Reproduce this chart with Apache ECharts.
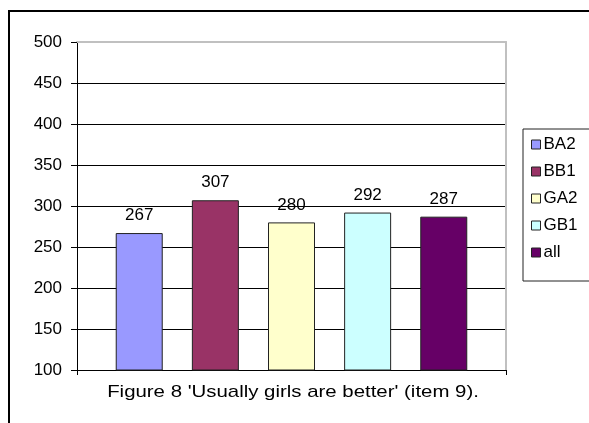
<!DOCTYPE html>
<html>
<head>
<meta charset="utf-8">
<script src="https://cdn.jsdelivr.net/npm/echarts@6/dist/echarts.min.js"></script>
<style>
  html, body { margin: 0; padding: 0; background: #fff; }
  #chart { width: 589px; height: 423px; }
</style>
</head>
<body>
<div id="chart"></div>
<script>
const categories = [''];
const seriesNames = ['BA2', 'BB1', 'GA2', 'GB1', 'all'];
const seriesValues = [267, 307, 280, 292, 287];
const seriesColors = ['#9999FF', '#993366', '#FFFFCC', '#CCFFFF', '#660066'];
const yMin = 100, yMax = 500, yInterval = 50;
const titleText = "Figure 8 'Usually girls are better' (item 9).";

const FONT = '"Liberation Sans", Arial, sans-serif';

const chart = echarts.init(document.getElementById('chart'), null, { renderer: 'canvas' });

const series = seriesNames.map((name, i) => ({
  name: name,
  type: 'bar',
  xAxisIndex: 0,
  yAxisIndex: 0,
  data: [seriesValues[i]],
  barWidth: 47,
  barGap: '62%',
  itemStyle: { color: seriesColors[i], borderColor: '#222', borderWidth: 1 },
  label: {
    show: true, position: 'top', distance: 9,
    color: '#000', fontSize: 17, fontFamily: FONT
  },
  emphasis: { disabled: true },
  animation: false
}));

chart.setOption({
  animation: false,
  backgroundColor: '#fff',
  grid: { left: 77, top: 42, width: 429, height: 328, containLabel: false, outerBoundsMode: 'none' },
  xAxis: [
    {
      type: 'category', data: categories, position: 'bottom',
      axisLine: { show: true, lineStyle: { color: '#000', width: 1 } },
      axisTick: { show: true, inside: false, length: 5, lineStyle: { color: '#000' } },
      axisLabel: { show: false },
      splitLine: { show: false }
    },
    {
      type: 'category', data: categories, position: 'top', gridIndex: 0,
      axisLine: { show: true, lineStyle: { color: '#c0c0c0', width: 2 } },
      axisTick: { show: false }, axisLabel: { show: false }, splitLine: { show: false }
    }
  ],
  yAxis: [
    {
      type: 'value', min: yMin, max: yMax, interval: yInterval, position: 'left',
      axisLine: { show: true, lineStyle: { color: '#000', width: 1 } },
      axisTick: { show: true, inside: false, length: 6, lineStyle: { color: '#000' } },
      axisLabel: { show: true, margin: 15, color: '#000', fontSize: 17, fontFamily: FONT },
      splitLine: { show: true, showMinLine: false, showMaxLine: false, lineStyle: { color: '#000', width: 1 } }
    },
    {
      type: 'value', min: yMin, max: yMax, interval: yInterval, position: 'right',
      axisLine: { show: true, lineStyle: { color: '#c0c0c0', width: 2 } },
      axisTick: { show: false }, axisLabel: { show: false }, splitLine: { show: false }
    }
  ],
  legend: {
    show: true, orient: 'vertical', left: 523, top: 129,
    data: seriesNames,
    icon: 'rect', itemWidth: 9, itemHeight: 9, itemGap: 10,
    padding: [7, 25, 20, 8],
    borderColor: '#222', borderWidth: 1, backgroundColor: '#fff', borderRadius: 0,
    itemStyle: { borderColor: '#222', borderWidth: 1 },
    textStyle: { color: '#000', fontSize: 17, fontFamily: FONT, padding: [0, 0, 0, -2] },
    selectedMode: false
  },
  graphic: [
    {
      type: 'rect', silent: true, z: 100,
      shape: { x: 9, y: 11, width: 700, height: 500 },
      style: { fill: 'none', stroke: '#000', lineWidth: 2 }
    },
    {
      type: 'text', silent: true, z: 100,
      x: 293, y: 392, scaleX: 1.2,
      style: {
        text: titleText, fill: '#000',
        font: '17px ' + FONT,
        textAlign: 'center', textVerticalAlign: 'middle'
      }
    }
  ],
  series: series
});
</script>
</body>
</html>
